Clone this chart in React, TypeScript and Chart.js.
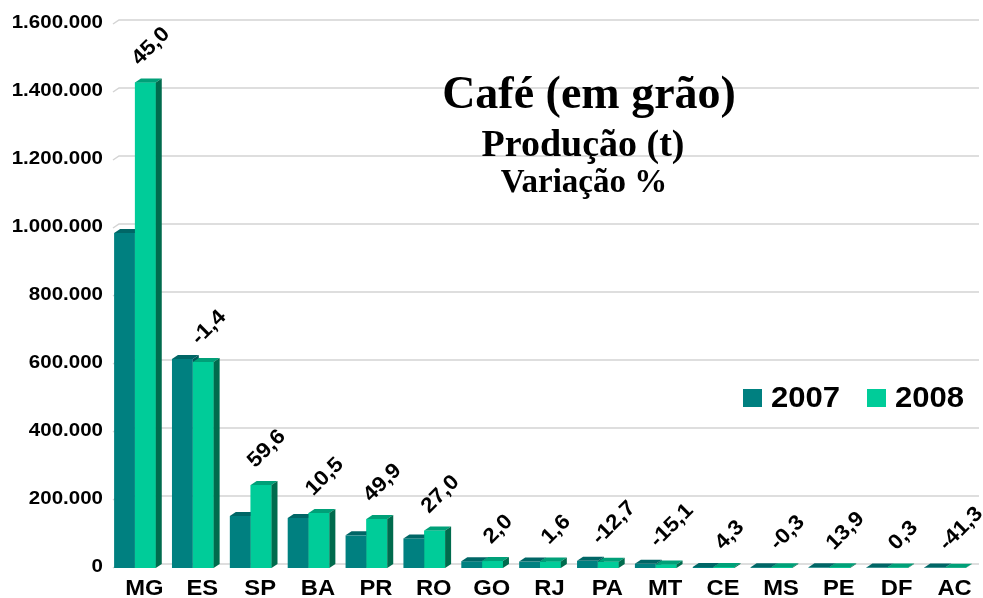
import React, { useEffect, useRef } from 'react';
import { Chart, registerables } from 'chart.js';

Chart.register(...registerables);

const categories = ['MG', 'ES', 'SP', 'BA', 'PR', 'RO', 'GO', 'RJ', 'PA', 'MT', 'CE', 'MS', 'PE', 'DF', 'AC'];
const seriesLabels = ['2007', '2008'];
const production2007 = [985000, 615000, 153000, 147000, 96000, 87000, 20000, 19000, 21000, 12500, 3000, 2500, 2000, 1500, 1500];
const production2008 = [1428000, 606000, 244000, 162000, 144000, 110000, 20400, 19300, 18300, 10600, 3100, 2500, 2300, 1500, 900];
const variation = ['45,0', '-1,4', '59,6', '10,5', '49,9', '27,0', '2,0', '1,6', '-12,7', '-15,1', '4,3', '-0,3', '13,9', '0,3', '-41,3'];
const yMax = 1600000;
const yStep = 200000;
const titleLines = ['Café (em grão)', 'Produção (t)', 'Variação %'];

const FRONT = ['#008080', '#00CC99'];
const TOP = ['#006666', '#00A078'];
const SIDE = ['#005A5A', '#006B4D'];
const DX = 6;
const DY = 4;
const SANS = '"Liberation Sans", Arial, sans-serif';
const SERIF = '"Liberation Serif", "Times New Roman", serif';

const fmt = (v: number) => String(Math.round(v)).replace(/\B(?=(\d{3})+(?!\d))/g, '.');

function stretchedText(ctx: any, text: string, x: number, y: number, sx: number) {
  ctx.save();
  ctx.translate(x, y);
  ctx.scale(sx, 1);
  ctx.fillText(text, 0, 0);
  ctx.restore();
}

const depthPlugin = {
  id: 'depth3d',
  beforeDatasetsDraw(chart: any) {
    const ctx = chart.ctx;
    const y = chart.scales.y;
    const area = chart.chartArea;
    ctx.save();
    ctx.strokeStyle = '#d4d4d4';
    ctx.lineWidth = 1.5;
    y.ticks.forEach((t: any) => {
      const py = y.getPixelForValue(t.value);
      ctx.beginPath();
      ctx.moveTo(area.left + 7, py);
      ctx.lineTo(area.left + 7 + DX, py - DY);
      ctx.lineTo(area.right + 5, py - DY);
      ctx.stroke();
    });
    ctx.restore();
  },
  afterDatasetsDraw(chart: any) {
    const ctx = chart.ctx;
    const metas = [chart.getDatasetMeta(0), chart.getDatasetMeta(1)];
    ctx.save();
    for (let i = 0; i < categories.length; i++) {
      for (let d = 0; d < 2; d++) {
        const el = metas[d].data[i];
        const p = el.getProps(['x', 'y', 'base', 'width'], true);
        const l = p.x - p.width / 2;
        const r = p.x + p.width / 2;
        const top = Math.min(p.y, p.base);
        const bot = Math.max(p.y, p.base);
        if (d === 1) {
          ctx.fillStyle = FRONT[d];
          ctx.fillRect(l, top, r - l, bot - top);
        }
        ctx.fillStyle = TOP[d];
        ctx.beginPath();
        ctx.moveTo(l, top);
        ctx.lineTo(l + DX, top - DY);
        ctx.lineTo(r + DX, top - DY);
        ctx.lineTo(r, top);
        ctx.closePath();
        ctx.fill();
        ctx.fillStyle = SIDE[d];
        ctx.beginPath();
        ctx.moveTo(r, top);
        ctx.lineTo(r + DX, top - DY);
        ctx.lineTo(r + DX, bot - DY);
        ctx.lineTo(r, bot);
        ctx.closePath();
        ctx.fill();
      }
    }
    // variation labels
    ctx.fillStyle = '#000';
    ctx.font = `bold 21px ${SANS}`;
    ctx.textAlign = 'center';
    ctx.textBaseline = 'middle';
    for (let i = 0; i < categories.length; i++) {
      const el = metas[1].data[i];
      const p = el.getProps(['x', 'y'], true);
      const text = variation[i];
      const w = ctx.measureText(text).width * 1.08;
      const h = 15;
      const ext = (w + h) * Math.SQRT1_2;
      const cx = p.x + 5;
      const cy = p.y - 16 - ext / 2;
      ctx.save();
      ctx.translate(cx, cy);
      ctx.rotate(-Math.PI / 4);
      ctx.scale(1.08, 1);
      ctx.fillText(text, 0, 1);
      ctx.restore();
    }
    ctx.restore();
  },
  afterDraw(chart: any) {
    const ctx = chart.ctx;
    const xs = chart.scales.x;
    const ys = chart.scales.y;
    ctx.save();
    ctx.fillStyle = '#000';
    // y tick labels
    ctx.font = `bold 18px ${SANS}`;
    ctx.textAlign = 'right';
    ctx.textBaseline = 'middle';
    ys.ticks.forEach((t: any) => {
      stretchedText(ctx, fmt(t.value), 103, ys.getPixelForValue(t.value) - 1, 1.14);
    });
    // x tick labels
    ctx.font = `bold 22px ${SANS}`;
    ctx.textAlign = 'center';
    xs.ticks.forEach((t: any, i: number) => {
      stretchedText(ctx, categories[i], xs.getPixelForTick(i) + 9.5, 589, 1.08);
    });
    // title
    ctx.textAlign = 'center';
    ctx.textBaseline = 'alphabetic';
    ctx.font = `bold 46px ${SERIF}`;
    ctx.fillText(titleLines[0], 589, 108);
    ctx.font = `bold 38px ${SERIF}`;
    ctx.fillText(titleLines[1], 583, 156);
    ctx.font = `bold 33px ${SERIF}`;
    ctx.fillText(titleLines[2], 584, 192);
    // legend
    ctx.font = `bold 29px ${SANS}`;
    ctx.textAlign = 'left';
    ctx.textBaseline = 'middle';
    const items = [
      { x: 743, tx: 771 },
      { x: 867, tx: 895 },
    ];
    items.forEach((it, k) => {
      ctx.fillStyle = FRONT[k];
      ctx.fillRect(it.x, 389, 19, 18);
      ctx.fillStyle = '#000';
      stretchedText(ctx, seriesLabels[k], it.tx, 399, 1.07);
    });
    ctx.restore();
  },
};

export default function App() {
  const ref = useRef<HTMLCanvasElement>(null);
  useEffect(() => {
    document.body.style.margin = '0';
    const chart = new Chart(ref.current!, {
      type: 'bar',
      data: {
        labels: categories,
        datasets: [
          { label: seriesLabels[0], data: production2007, backgroundColor: FRONT[0], borderWidth: 0 },
          { label: seriesLabels[1], data: production2008, backgroundColor: FRONT[1], borderWidth: 0 },
        ],
      },
      options: {
        animation: false,
        responsive: false,
        maintainAspectRatio: false,
        layout: { padding: { top: 24, right: 9, bottom: 0, left: 0 } },
        datasets: { bar: { categoryPercentage: 0.72, barPercentage: 1.0 } },
        plugins: { legend: { display: false }, tooltip: { enabled: false }, title: { display: false } },
        scales: {
          x: {
            grid: { display: false, drawTicks: false },
            border: { display: false },
            ticks: { display: false, autoSkip: false, maxRotation: 0 },
            afterFit(scale: any) { scale.height = 30; },
          },
          y: {
            min: 0,
            max: yMax,
            grid: { display: false, drawTicks: false },
            border: { display: false },
            ticks: { display: false, stepSize: yStep },
            afterFit(scale: any) { scale.width = 106; },
          },
        },
      },
      plugins: [depthPlugin],
    });
    return () => chart.destroy();
  }, []);
  return <canvas ref={ref} width={983} height={598} style={{ display: 'block' }} />;
}
